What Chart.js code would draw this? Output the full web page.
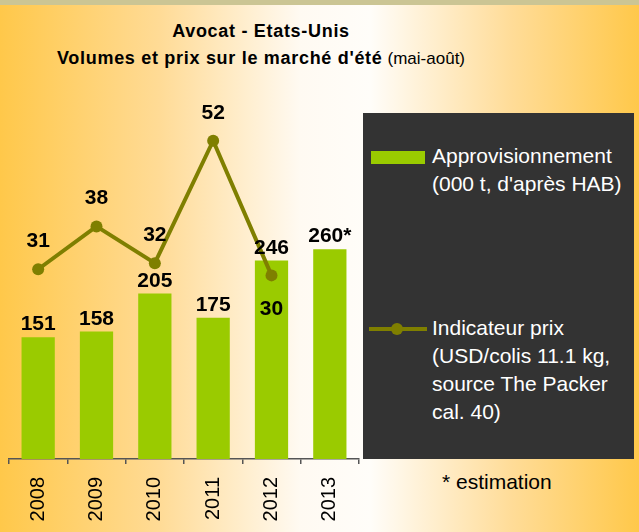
<!DOCTYPE html>
<html lang="fr">
<head>
<meta charset="utf-8">
<script src="https://cdn.jsdelivr.net/npm/chart.js@4.4.1/dist/chart.umd.min.js"></script>
<style>
  html, body { margin: 0; padding: 0; }
  body {
    width: 639px; height: 532px; position: relative; overflow: hidden;
    font-family: 'Liberation Sans', Arial, sans-serif;
    background: linear-gradient(to right, #ffc84a 0%, #ffdb96 25%, #fffaf2 47%, #fffdf9 58%, #ffdc98 80%, #ffc84a 100%);
  }
  .topbar { position: absolute; left: 0; top: 0; width: 639px; height: 5px; background: #cbc594; }
  #chart { position: absolute; left: 0; top: 0; }
  .title { position: absolute; left: 0; top: 18px; width: 522px; text-align: center; font-size: 18px; line-height: 27px; color: #000; }
  .title b { letter-spacing: 0.7px; }
  .title span { font-size: 17px; }
  .legend { position: absolute; left: 363px; top: 113px; width: 271px; height: 346px; background: #333333; }
  .lg-text { position: absolute; left: 432px; color: #fff; font-size: 21px; line-height: 28px; white-space: nowrap; }
  .swatch { position: absolute; left: 371px; top: 151px; width: 54px; height: 13px; background: #9acb00; }
  .lg-line { position: absolute; left: 369px; top: 327px; width: 58px; height: 4px; background: #7f7f00; }
  .lg-dot { position: absolute; left: 391px; top: 323px; width: 12px; height: 12px; border-radius: 50%; background: #7f7f00; }
  .note { position: absolute; left: 442px; top: 468px; font-size: 21px; line-height: 28px; color: #000; }
</style>
</head>
<body>
<div class="topbar"></div>
<div class="title"><b>Avocat - Etats-Unis</b><br><b>Volumes et prix sur le marché d'été</b> <span>(mai-août)</span></div>
<div class="legend"></div>
<div class="swatch"></div>
<div class="lg-text" style="top:142px">Approvisionnement<br>(000 t, d'après HAB)</div>
<div class="lg-line"></div>
<div class="lg-dot"></div>
<div class="lg-text" style="top:314px">Indicateur prix<br>(USD/colis 11.1 kg,<br>source The Packer<br>cal. 40)</div>
<div class="note">* estimation</div>
<canvas id="chart" width="639" height="532"></canvas>
<script>
// Données
const years = ['2008', '2009', '2010', '2011', '2012', '2013'];
const volumes = [151, 158, 205, 175, 246, 260];
const volumeNotes = ['', '', '', '', '', '*'];
const prices = [31, 38, 32, 52, 30, null];

const FONT = "'Liberation Sans', Arial, sans-serif";

// étiquettes de valeurs (pas de plugin datalabels disponible)
const valueLabels = {
  id: 'valueLabels',
  afterDatasetsDraw(chart) {
    const ctx = chart.ctx;
    ctx.save();
    ctx.fillStyle = '#000';
    ctx.font = 'bold 21px ' + FONT;
    ctx.textAlign = 'center';
    ctx.textBaseline = 'alphabetic';
    chart.getDatasetMeta(1).data.forEach((bar, i) => {
      ctx.fillText(volumes[i] + volumeNotes[i], bar.x, bar.y - 7);
    });
    chart.getDatasetMeta(0).data.forEach((pt, i) => {
      if (prices[i] == null) return;
      const below = i === 4;
      ctx.fillText(prices[i], pt.x, below ? pt.y + 40 : pt.y - 22);
    });
    ctx.restore();
  }
};

new Chart(document.getElementById('chart'), {
  data: {
    labels: years,
    datasets: [
      {
        type: 'line',
        label: 'Indicateur prix',
        data: prices,
        yAxisID: 'y1',
        borderColor: '#7f7f00',
        backgroundColor: '#7f7f00',
        borderWidth: 4,
        pointRadius: 6,
        pointBackgroundColor: '#7f7f00',
        pointBorderWidth: 0,
        tension: 0,
        order: 0
      },
      {
        type: 'bar',
        label: 'Approvisionnement',
        data: volumes,
        yAxisID: 'y',
        backgroundColor: '#9acb00',
        categoryPercentage: 1,
        barPercentage: 0.57,
        order: 1
      }
    ]
  },
  options: {
    responsive: false,
    devicePixelRatio: 1,
    animation: false,
    layout: { padding: { left: 9, right: 280, top: 104, bottom: 0 } },
    plugins: { legend: { display: false }, tooltip: { enabled: false } },
    scales: {
      x: {
        offset: true,
        afterFit(scale) { scale.height = 73; },
        grid: { offset: true, drawOnChartArea: false, drawTicks: true, tickLength: 5, color: '#555', lineWidth: 1.5 },
        border: { color: '#555', width: 1.5 },
        ticks: { color: '#000', font: { family: FONT, size: 20 }, minRotation: 90, maxRotation: 90, padding: 13 }
      },
      y: { display: false, min: 0, max: 440 },
      y1: { display: false, min: 0, max: 58 }
    }
  },
  plugins: [valueLabels]
});
</script>
</body>
</html>
